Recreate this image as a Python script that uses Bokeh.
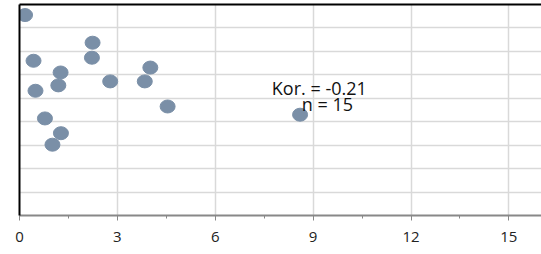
from bokeh.plotting import figure
from bokeh.models import SingleIntervalTicker, LinearAxis, Range1d, ColumnDataSource
from bokeh.embed import file_html
from bokeh.resources import INLINE
from bokeh.core.properties import value

x_vals = [0.17, 0.43, 0.49, 0.78, 1.01, 1.27, 1.19, 1.26, 2.24, 2.22, 2.78, 3.84, 4.01, 4.54, 8.60]
y_vals = [8.55, 6.60, 5.32, 4.14, 3.02, 3.51, 5.55, 6.10, 7.37, 6.73, 5.72, 5.72, 6.31, 4.65, 4.30]
stat_lines = ["Kor. = -0.21", "n = 15"]

FONT = "Open Sans"

p = figure(width=541, height=254, output_backend="svg", toolbar_location=None,
           x_range=Range1d(0, 16), y_range=Range1d(0, 9),
           min_border_left=19, min_border_right=0, min_border_top=4, min_border_bottom=39,
           x_axis_location="below", y_axis_location="left")
p.outline_line_color = None
p.background_fill_color = "white"

# x axis
xa = p.xaxis[0]
xa.ticker = SingleIntervalTicker(interval=3, num_minor_ticks=2)
xa.axis_line_color = "#888888"
xa.axis_line_width = 2
xa.major_tick_line_color = "#888888"
xa.minor_tick_line_color = "#888888"
xa.major_tick_out = 5
xa.major_tick_in = 0
xa.minor_tick_out = 3
xa.minor_tick_in = 0
xa.major_label_text_font = FONT
xa.major_label_text_font_size = "15px"
xa.major_label_text_color = "#222222"
xa.major_label_standoff = 11

# y axis: line only
ya = p.yaxis[0]
ya.ticker = SingleIntervalTicker(interval=1)
ya.axis_line_color = "black"
ya.axis_line_width = 2
ya.major_tick_line_color = None
ya.minor_tick_line_color = None
ya.major_tick_out = 0
ya.minor_tick_out = 0
ya.major_label_standoff = 0
ya.major_label_text_font_size = "0px"
ya.major_label_text_color = None

# top border as an axis line
top = LinearAxis(axis_line_color="black", axis_line_width=2,
                 major_tick_line_color=None, minor_tick_line_color=None,
                 major_tick_out=0, minor_tick_out=0, major_label_standoff=0,
                 major_label_text_font_size="0px", major_label_text_color=None)
p.add_layout(top, "above")

p.xgrid.ticker = SingleIntervalTicker(interval=3)
p.ygrid.ticker = SingleIntervalTicker(interval=1)
p.xgrid.grid_line_color = "#d9d9d9"
p.ygrid.grid_line_color = "#d9d9d9"
p.xgrid.grid_line_width = 1.5
p.ygrid.grid_line_width = 1.5

src = ColumnDataSource(dict(x=x_vals, y=y_vals))
p.ellipse(x="x", y="y", width=15, height=13, width_units="screen", height_units="screen",
          source=src, fill_color="#7a8fa7", line_color="#7a8fa7")

p.text(x=[9.19], y=[5.45], text=[stat_lines[0]], text_align="center", text_baseline="alphabetic",
       text_font=value(FONT), text_font_size="18px", text_color="#111111")
p.text(x=[9.44], y=[4.75], text=[stat_lines[1]], text_align="center", text_baseline="alphabetic",
       text_font=value(FONT), text_font_size="18px", text_color="#111111")

open("out.html", "w").write(file_html(p, INLINE))
